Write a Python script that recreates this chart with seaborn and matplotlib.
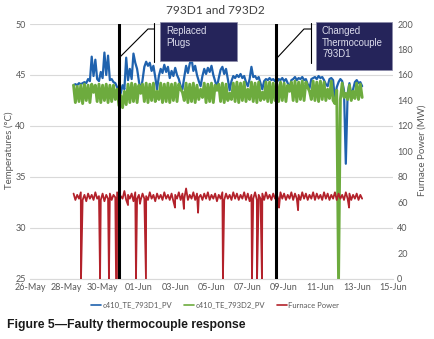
import numpy as np
import pandas as pd
import matplotlib
matplotlib.use('Agg')
import matplotlib.pyplot as plt
import matplotlib.dates as mdates
from matplotlib.patches import Rectangle
from matplotlib.lines import Line2D
import seaborn as sns

sns.set_style('white')
plt.rcParams['font.family'] = ['Lato', 'DejaVu Sans']

# ---------------- data ----------------
start_date = '2019-05-26'
sample_start_day = 2.4      # days after start_date of first sample
sample_step_day = 0.1

te_793d1 = [44.0, 44.1, 44.0, 44.2, 44.1, 44.2, 44.3, 44.2, 44.6, 44.4,
            46.8, 44.9, 46.5, 44.6, 44.4, 45.3, 44.7, 47.2, 45.0, 46.9,
            44.5, 44.6, 44.3, 44.2, 43.8, 43.4, 43.2, 44.0, 43.6, 46.7,
            44.5, 45.6, 44.6, 47.1, 46.2, 45.6, 44.4, 43.4, 44.5, 45.8,
            46.3, 45.9, 46.2, 45.4, 45.9, 44.8, 43.6, 44.9, 45.6, 45.2,
            46.0, 45.3, 45.8, 44.7, 45.4, 44.9, 45.7, 45.0, 44.6, 43.9,
            43.6, 44.8, 45.9, 45.2, 46.1, 46.6, 45.4, 45.9, 45.0, 44.4,
            43.9, 44.9, 45.6, 45.1, 45.7, 45.3, 45.9, 45.0, 44.4, 43.8,
            44.7, 45.5, 45.8, 45.1, 45.6, 44.6, 43.5, 44.4, 44.9, 44.7,
            45.0, 44.8, 45.1, 44.7, 44.9, 44.3, 43.9, 44.6, 45.8, 44.8,
            44.9, 44.6, 44.8, 44.2, 43.6, 44.4, 44.6, 44.5, 44.7, 44.5,
            44.6, 44.4, 44.3, 44.6, 44.5, 44.7, 44.4, 44.6, 44.2, 43.7,
            44.5, 44.6, 44.8, 44.5, 44.7, 44.6, 44.8, 44.5, 44.6, 44.1,
            43.7, 44.6, 44.7, 44.8, 44.6, 44.9, 44.7, 44.8, 44.5, 44.1,
            43.9, 44.6, 44.7, 44.5, 42.6, 43.8, 44.3, 44.6, 44.4, 43.5,
            36.3, 43.2, 44.2, 42.9, 43.6, 44.3, 44.5, 44.2, 44.3, 43.9]

te_793d2 = [44.0, 42.3, 43.9, 42.4, 44.0, 42.2, 44.1, 42.5, 44.0, 42.3,
            44.1, 43.3, 44.0, 42.4, 44.1, 42.3, 44.0, 42.5, 44.1, 42.3,
            44.0, 42.4, 44.0, 42.6, 43.6, 42.0, 43.0, 41.8, 43.4, 42.1,
            44.1, 42.3, 44.2, 42.4, 44.1, 42.3, 44.0, 43.2, 44.1, 42.4,
            44.2, 42.3, 44.1, 42.5, 44.2, 42.4, 43.4, 42.6, 44.2, 42.3,
            44.1, 42.4, 44.2, 42.3, 44.1, 42.5, 44.2, 42.4, 44.1, 43.6,
            43.3, 42.5, 44.2, 42.3, 44.1, 42.4, 44.2, 42.3, 44.0, 42.6,
            43.6, 42.8, 44.2, 42.3, 44.1, 42.4, 44.2, 42.3, 44.0, 43.5,
            44.1, 42.4, 44.2, 42.3, 44.1, 42.5, 43.2, 42.6, 44.2, 42.4,
            44.3, 42.3, 44.2, 42.5, 44.3, 42.4, 43.6, 42.6, 44.3, 42.4,
            44.2, 42.3, 44.3, 42.5, 43.3, 42.6, 44.3, 42.4, 44.3, 42.3,
            44.2, 42.5, 44.1, 42.4, 44.3, 42.5, 44.2, 42.4, 44.0, 43.4,
            44.3, 42.5, 44.4, 42.4, 44.3, 42.6, 44.4, 42.5, 44.3, 43.8,
            43.4, 42.6, 44.4, 42.5, 44.3, 42.4, 44.4, 42.6, 44.3, 42.5,
            43.6, 42.7, 44.4, 42.5, 42.2, 43.5, 25.0, 42.6, 44.2, 42.8,
            43.2, 42.6, 44.0, 42.5, 43.4, 42.7, 44.2, 42.6, 44.1, 42.8]

furnace_power_base = [67, 62, 66, 63, 68, 62, 66, 61, 67, 63,
                      66, 62, 68, 63, 65, 62, 67, 61, 66, 63,
                      67, 62, 66, 64, 68, 62, 65, 63, 69, 62,
                      66, 63, 67, 61, 68, 63, 66, 62, 67, 63,
                      65, 62, 68, 63, 66, 61, 67, 63, 66, 62,
                      68, 63, 66, 62, 67, 61, 66, 63, 68, 62,
                      67, 63, 71, 62, 66, 63, 68, 62, 67, 64,
                      66, 62, 67, 63, 68, 62, 66, 63, 67, 61,
                      66, 63, 68, 62, 67, 63, 66, 62, 68, 63,
                      67, 62, 66, 63, 68, 62, 67, 61, 66, 63,
                      68, 62, 66, 63, 67, 62, 68, 63, 66, 62,
                      67, 63, 66, 62, 68, 63, 67, 62, 66, 63,
                      68, 62, 67, 63, 66, 62, 68, 63, 67, 62,
                      66, 63, 68, 62, 67, 63, 66, 62, 68, 63,
                      67, 62, 66, 63, 68, 62, 67, 63, 66, 62,
                      68, 63, 67, 62, 66, 63, 67, 62, 66, 63]

power_dip_days = [2.81, 3.86, 4.35, 4.74, 4.79, 5.40, 5.84, 6.06, 6.39,
                  7.99, 8.48, 9.26, 10.63, 12.23, 12.51, 12.78, 13.72,
                  14.77, 17.58]
power_dip_values = [0, 0, 0, 0, 0, 58, 0, 59, 0,
                    56, 55, 52, 0, 0, 0, 0, 56,
                    54, 56]

event_days = [4.92, 13.55]
event_labels = ['Replaced\nPlugs', 'Changed\nThermocouple\n793D1']
series_labels = ['c410_TE_793D1_PV', 'c410_TE_793D2_PV', 'Furnace Power']
xtick_start, xtick_end = '2019-05-26', '2019-06-15'
temp_ticks = [25, 30, 35, 40, 45, 50]
power_ticks = [0, 20, 40, 60, 80, 100, 120, 140, 160, 180, 200]

# ---------------- build ----------------
W, H = 434, 339
c_blue, c_green, c_red = '#1f62ae', '#6dab3e', '#b3222b'
grey = '#595959'

t0 = pd.Timestamp(start_date)
n = len(te_793d1)
days = sample_start_day + sample_step_day * np.arange(n)
times = t0 + pd.to_timedelta(days, unit='D')

p_days = np.concatenate([days, np.array(power_dip_days)])
p_vals = np.concatenate([np.array(furnace_power_base, float), np.array(power_dip_values, float)])
order = np.argsort(p_days)
p_times = t0 + pd.to_timedelta(p_days[order], unit='D')
p_vals = p_vals[order]

fig = plt.figure(figsize=(W / 100, H / 100), dpi=100)
ax = fig.add_axes([30 / W, 1 - 279 / H, (393 - 30) / W, (279 - 24) / H])
ax2 = ax.twinx()

sns.lineplot(x=times, y=te_793d1, ax=ax, color=c_blue, linewidth=1.6,
             sort=False, estimator=None, legend=False)
sns.lineplot(x=times, y=te_793d2, ax=ax, color=c_green, linewidth=2.1,
             sort=False, estimator=None, legend=False)
sns.lineplot(x=p_times, y=p_vals, ax=ax2, color=c_red, linewidth=1.3,
             sort=False, estimator=None, legend=False)

for d in event_days:
    ax2.axvline(t0 + pd.Timedelta(days=d), color='black', linewidth=2.2, zorder=10)

ax.set_ylim(temp_ticks[0], temp_ticks[-1])
ax.set_yticks(temp_ticks)
ax2.set_ylim(power_ticks[0], power_ticks[-1])
ax2.set_yticks(power_ticks)
xt = pd.date_range(xtick_start, xtick_end, freq='2D')
ax.set_xlim(pd.Timestamp(xtick_start), pd.Timestamp(xtick_end))
ax.set_xticks(xt)
ax.xaxis.set_major_formatter(mdates.DateFormatter('%d-%b'))

for a in (ax, ax2):
    for s in a.spines.values():
        s.set_visible(False)
    a.tick_params(length=0, labelsize=6.5, colors=grey, pad=3)
    a.set_xlabel('')
    a.set_ylabel('')
ax.spines['bottom'].set_visible(True)
ax.spines['bottom'].set_color('#d9d9d9')
ax.yaxis.grid(True, color='#d9d9d9', linewidth=0.8)
ax.xaxis.grid(False)
ax2.grid(False)

fig.text(9 / W, 1 - 150 / H, 'Temperatures (°C)', rotation=90, ha='center', va='center',
         fontsize=7, color=grey)
fig.text(422 / W, 1 - 150 / H, 'Furnace Power (MW)', rotation=90, ha='center', va='center',
         fontsize=7, color=grey)

fig.text(215 / W, 1 - 11 / H, '793D1 and 793D2', ha='center', va='center',
         fontsize=8.6, color='#404040')

handles = [Line2D([], [], color=c, linewidth=1.2) for c in (c_blue, c_green, c_red)]
leg = fig.legend(handles, series_labels, loc='center', bbox_to_anchor=(215 / W, 1 - 305 / H),
                 ncol=3, frameon=False, fontsize=5.5, handlelength=1.4,
                 handletextpad=0.15, columnspacing=1.5)
for t in leg.get_texts():
    t.set_color(grey)

def fx(x):
    return x / W

def fy(y):
    return 1 - y / H

# callout boxes
boxes = [(160, 22, 237, 61), (316, 22, 392, 70)]
for (x0, y0, x1, y1), lab in zip(boxes, event_labels):
    fig.add_artist(Rectangle((fx(x0), fy(y1)), fx(x1) - fx(x0), fy(y0) - fy(y1),
                             transform=fig.transFigure, facecolor='#25245a',
                             edgecolor='#8a8aa8', linewidth=0.5, zorder=20))
    fig.text(fx(x0 + 6), fy(y0 + 4), lab, ha='left', va='top', fontsize=6.9,
             family=['Liberation Sans', 'DejaVu Sans'],
             color='#dcdcec', linespacing=1.2, zorder=21)

leaders = [[(154, 23), (154, 62)], [(154, 29), (148, 29), (120, 57)],
           [(311, 23), (311, 63)], [(311, 29), (304, 29), (277, 58)]]
for pts in leaders:
    xs = [fx(p[0]) for p in pts]
    ys = [fy(p[1]) for p in pts]
    fig.add_artist(Line2D(xs, ys, transform=fig.transFigure, color='black',
                          linewidth=0.8, zorder=20))

fig.text(7 / W, 1 - 325 / H, 'Figure 5\u2014Faulty thermocouple response',
         family=['Liberation Sans', 'DejaVu Sans'], weight='bold', fontsize=8.8,
         ha='left', va='center', color='#1a1a1a')

fig.savefig('out.png', dpi=100)
